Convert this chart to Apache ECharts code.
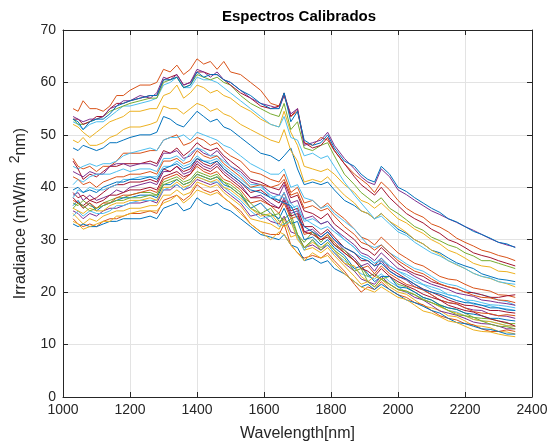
<!DOCTYPE html>
<html>
<head>
<meta charset="utf-8">
<title>Espectros Calibrados</title>
<script src="https://cdn.jsdelivr.net/npm/echarts@6/dist/echarts.min.js"></script>
<style>
  html, body { margin: 0; padding: 0; background: #fff; }
  #chart { width: 559px; height: 447px; }
</style>
</head>
<body>
<div id="chart"></div>
<script>
// Wavelength sample points (nm) shared by every spectrum
const wavelengths = [
  1030,1045,1060,1080,1100,1120,1140,1160,1180,1200,
  1230,1260,1280,1300,1320,1340,1360,1380,1400,1420,
  1440,1460,1480,1500,1530,1560,1590,1620,1645,1660,
  1680,1700,1720,1745,1770,1790,1810,1840,1870,1890,
  1910,1930,1950,1975,
  2000,2025,2050,2075,2100,2125,2150,2175,2200,2225,2250,2275,2300,2325,2350
];

// Calibrated irradiance spectra (mW/m^2 nm)
const z1 = [35,34,33,34,33.5,34.5,35,35.5,35.5,36, 36,36.5,36.5,38.5,38.5,39.5,38.5,39,41,40.5, 40,40.5,39,38,36.5,34,33.5,33,32,34, 30.5,31,28,28.5,27.5,28.5,27,25,23,21.5, 22,21,22.5,21,
  20,19.6,18.5,17.4,17,16.5,15.5,15.3,14.5,13.6,13.5,13.2,12.5,12.4,12];
const z2 = [34,33,32.5,33,32.5,33.5,34,34,34.5,35, 35,35.5,35,37.5,38,38.5,37.5,38.5,40.5,39.5, 39,39.5,38,37,35.5,33,31.5,31,31,33, 29,27.5,26.5,27,26.5,27.5,26,24,21.5,20, 21,20.5,22,20.5,
  19.5,19,18,17.6,16.5,15.5,15,14.7,14,13.8,13,12.5,12.5,12.8,12.5];
const z3 = [33,32.5,33,32.5,32.5,33,33.5,33.5,34,34, 34,34.5,34,36,36.5,37,35.5,36,38,37, 36.5,37,36,35.5,34,32.5,31,30.5,30,31, 29,28.5,26,26.5,25.5,26,24.5,23.5,22,21, 21.5,20.5,21.5,20.5,
  19.5,18.5,18,17.3,16.5,16,15,14.2,14,13.5,13,12.9,12.5,12,12];
const z4 = [33.5,33,32,32.5,33,33.5,33.5,34.5,34.5,35, 35.5,35.5,35.5,37,37.5,38.5,37,38,39.5,39, 38.5,39,38,37,35,33,31.5,30,31.5,31, 29,27.5,26,27.5,26.5,27,25.5,23.5,22,21, 20.5,20,21,20,
  19,18.6,17.5,16.4,16,15.3,14.5,14.2,13.5,12.8,12.5,12.4,12,11.7,11.5];
const z5 = [35.5,35,34,35,34.5,35.5,36,36,36.5,37, 37,37.5,37,39.5,39.5,40.5,39.5,40,41.5,41, 40.5,41,39.5,38.5,37,34.5,35,33.5,33,34.5, 31.5,31,28.5,29,28,29,27.5,25.5,24,22.5, 22,21.5,23,21.5,
  20.5,20,19,18.5,17.5,16.4,16,15.6,15,14.3,14,13.9,13.5,13,13];
const z6 = [34.5,35.5,34.5,35.5,35,35,35.5,36.5,36.5,37, 37.5,37.5,37.5,39.5,40,40.5,39.5,40.5,42,41.5, 41,41,40,39,37.5,35.5,34,34.5,32.5,33, 33.5,30.5,28,30,28.5,29,27.5,26,24.5,23.5, 23,22.5,23.5,22,
  21,20,19.5,18.7,18,17.3,16.5,16.2,15.5,14.8,14.5,14.4,14,13.6,13.5];

const l1 = [38.5,39,37.5,38.5,37.5,38,38.5,39.5,39,40, 40.5,41,40.5,43,43,44,42.5,43,45,44, 43.5,44.5,43,42,40.5,38,38.5,37,36,38, 35,35.5,31.5,32,30.5,31.5,30,28,26.5,25, 25.5,24,26,24,
  23,22.3,21,20.5,19.5,18.5,18,17.7,17,16.6,16.5,15.8,15.5,15.4,15];
const l2 = [39,38,38.5,37.5,38,39,40,40.5,40.5,41, 41,41.5,41,43.5,43,44,43,43.5,45.5,44.5, 44,45,43.5,42.5,41,39,39.5,38,37,39, 35.5,36,32.5,32.5,31,32,30.5,28.5,27.5,26, 26,25,26.5,24.5,
  23.5,22.5,21.5,20.6,20,19.3,18.5,18,17.5,17.4,17,16.5,16.5,16.2,16];
const l3 = [37,36.5,37.5,36.5,36,37,37.5,38,38,38.5, 39,39,38.5,41,41.5,42,41,41.5,43,42.5, 42,42.5,41,40.5,39,36,35,36,33.5,34, 35,31,29.5,31.5,29.5,31,29,28,26,25, 23,23.5,22.5,23,
  21.5,21,20,19,18.5,17.6,17,16.7,16,15.2,15,14.9,14.5,14,14];
const l4 = [36.5,37.5,36,37,35.5,36.5,37,37.5,38,38, 38.5,38.5,38,40.5,40.5,41.5,40.5,41,42.5,42, 41.5,42,40.5,40,38.5,36,37,35,34,36, 33,33.5,30,30.5,29,30,28.5,27,24.5,25, 23.5,22,23,23,
  21,20.8,20,19,18.5,17.5,17,16.7,16,15.8,15.5,15,15,14.7,14.5];
const l5 = [38,39.5,39,40,39.5,39.5,40,40.5,41.5,41.5, 42,42,42,44,44,45,44,44.5,46,45, 45,45.5,44,43,41.5,40,40,38.5,37.5,39, 36,36.5,33.5,34,33,33.5,32,30,28.5,27, 26.5,25.5,26,25,
  24,23.4,22.5,21.5,21,20.5,19.5,19.2,18.5,17.7,17.5,17.4,17,16.8,16.5];
const l6 = [37.5,37,36,37,36,37,37,38,38.5,38.5, 39,39.5,39,41.5,42,42.5,41.5,42.5,44,43, 42.5,43,41.5,41,39.5,37,37.5,36.5,35,37, 34,34.5,31,31.5,30,31,29.5,27.5,26,24.5, 25,23.5,25,23.5,
  22.5,21.5,21,20.4,19.5,18.5,18,17.8,17,16.3,16,15.9,15.5,15.7,15.5];
const l7 = [36,35.5,35,36,35.5,35.5,36.5,37,37,37.5, 37.5,38,37.5,40,40,41,40,40.5,42,41.5, 41,41.5,40,39.5,38,36,34.5,35,33,32.5, 33.5,30,28.5,29.5,28.5,29.5,28,25.5,25,23, 22,23,22.5,21.5,
  20.5,20.2,19.5,18.6,18,17.2,16.5,16,15.5,14.8,14.5,14.4,14,13.6,13.5];
const l8 = [38,37,36.5,37.5,37,37.5,38.5,38.5,39,39.5, 39.5,40,39.5,42,42.5,43,42,42.5,44.5,43.5, 43,44,42.5,41.5,40,38,38,36.5,36,37.5, 34.5,35,31.5,31,30,30.5,29,27.5,26,24.5, 24,23,24.5,23,
  22,21.2,20.5,19.6,19,18.5,17.5,17,16.5,16.2,15.5,14.9,14.5,14.2,13.5];
const l9 = [36,37,36.5,35.5,36,36.5,37,37.5,37.5,38, 38,38.5,38.5,40.5,41,41.5,40.5,41,42.5,42, 41.5,42,41,40,38.5,37,35,34.5,35,33, 34,31,28.5,30,28,29.5,28,26.5,24,24.5, 22,21,22.5,21.5,
  20.5,20.2,19.5,18.5,18,17.4,16.5,15.7,15.5,15.2,14.5,13.9,13.5,13.4,13];
const l10 = [39.5,40,39,39.5,39,40,40.5,41,41,41.5, 41.5,42,41.5,43.5,44,44.5,43.5,44,45.5,45, 44.5,45,43.5,42.5,41,39.5,39,38,37.5,37, 36.5,34,32.5,31.5,30.5,31.5,30,28.5,27.5,26.5, 26,25,25.5,24,
  23,22.5,21.5,20.5,20,19.6,19,18.4,18,17.9,17.5,17,17,16.6,16.5];

const m1 = [45.5,44,43.5,44,43,44,44,45,46.5,46.5, 46.5,47,47,49,49.5,50,48,48.5,49.5,49, 48,48.5,47,46,45,43,42.5,41.5,41,42.5, 39,40,37,37.5,36,37,35.5,34,32,30.5, 30,29,30.5,29,
  27.5,26.5,25.5,25,24,23,22.5,22.3,21.5,20.8,20.5,20.2,19.5,19.4,19];
const m2 = [44,43.5,44,44.5,44,44.5,44.5,45,46,46.5, 47,47.5,47,49,49.5,49.5,50,49,50.5,50, 49.5,49,48,47.5,46,44.5,43.5,42.5,42.5,43.5, 40,40.5,38,37.5,36,36.5,35,33.5,32,30.5, 29,28.5,29,27.5,
  26.5,25.4,24.5,24,23,22,21.5,21.2,20.5,19.8,19.5,19.1,18.5,18.2,17.5];
const m3 = [45,43.5,41.5,42.5,42,43,44,44,44.5,44.5, 44.5,45,44.5,47,46.5,47.5,46,47,48.5,47.5, 47,47.5,46,45,43.5,41.5,41,40,39.5,41, 38,38.5,35.5,35,34,35,33,31.5,30,28.5, 28,27,28.5,27,
  25.5,24.3,23.5,23,22,21.5,21,20.6,20,19.9,19.5,19,19,19.3,19.5];
const m4 = [43,42.5,42,43,42.5,42.5,44,44.5,44.5,44, 44.5,44.5,44,46.5,46.5,47,45.5,46,47.5,46.5, 46,47,45.5,44,43,41,40.5,39,38.5,40.5, 37,37.5,34,34.5,33,33.5,32,30.5,29,27.5, 27,26,27.5,26,
  24.5,24,23,22.2,21.5,21,20.5,19.8,19.5,19.2,18.5,18.3,18,17.8,17.5];
const m5 = [40.5,41.5,41,42,42.5,42.5,42.5,43,43.5,43, 43.5,43.5,43,45.5,45.5,46,45,46.5,47.5,47, 46,46,45,44,42.5,40.5,40.5,38,38.5,38, 37,35.5,34,33,32,32.5,31.5,30,28.5,27, 26.5,25.5,26.5,25,
  24,23,22,21.4,20.5,20,19.5,19.2,18.5,18.4,18,17.6,17.5,17.3,17];
const m6 = [42,41.5,40.5,41,40,41,41.5,42,42,42.5, 42.5,43,42.5,45,45,45.5,44.5,45,47,46, 45.5,46,44.5,43.5,42,40,40.5,40,40.5,41.5, 38.5,39,36,36.5,35.5,36,34.5,32.5,31,29.5, 29,28,29,27.5,
  26,25,24,23.5,22.5,21.6,21,20.7,20,19.4,19,18.9,18.5,18.4,18];

const b1 = [47.5,47,48,47.5,47,47.5,48.5,48.5,49,49.5, 50,50,50.5,53.5,53,52,51.5,53,54.5,53.5, 52.5,53,51.5,51,49.5,48,46.5,46,45,46, 47.5,43.5,40.5,41,40.5,41,39.5,37.5,36.5,35.5, 35,34,35,33.5,
  32,31.2,30,29.2,28,27.5,26.5,25.6,25,24.5,23.5,23,22.5,22.3,22];
const y1 = [52,51.5,50.5,49.5,50.5,51.5,52.5,53,53.5,54.5, 54.5,55,55,57.5,58,59.5,57,58,59.5,59, 58,58.5,57.5,57,55.5,54.5,53,52,51.5,54.5, 50.5,48,44,43.5,43,43.5,42.5,40.5,39,37.5, 37,36,37,35.5,
  34,33.2,32,31.2,30,29.2,28,27.4,26.5,25.5,25,24.8,24,23.9,23.5];
const y2 = [49,48.5,49.5,48,48,48.5,49.5,50,51,51.5, 51.5,52,52.5,55.5,55,55,54,55,56,55.5, 54.5,55,54,53.5,52,51,50,49,48.5,51, 47,45,41,41.5,41,42,40.5,38.5,37,35.5, 35,34,35,33.5,
  32.5,31.4,30,29.2,28,27.2,26,25.2,24.5,23.6,23,22.6,22,21.6,21];

const t1 = [55,54.5,56.5,55,55,54.5,55.5,57.5,57.5,58.5, 59.5,59.5,60,62.5,62,63.3,61.5,62.5,64.5,63.5, 64,62.5,64,62,61.5,60,58.5,56,55.5,57.5, 53.5,54.5,48.5,48,49.5,49,47,44.5,42.5,41.5, 40.5,39,41,39.5,
  37.5,36,35,34.3,33,32.4,31.5,30.3,29.5,28.8,28,27.6,27,26.6,26];
const t2 = [53,52.5,51,52.5,53,53,54,55.5,56,56.5, 57,57.5,57.5,60.5,60.5,61,59,59.5,62,61, 61.5,61.5,60.5,60,58.5,57.5,56,55,55,58, 52.5,54.5,49,48,48.5,50,47.5,45,44,42.5, 41.5,41,44,42.5,
  40,39.2,38,37,36,35.2,34,33.4,32.5,31.6,31,30.3,29.5,29.2,28.5];
const t3 = [53.5,53,52.5,53,53,53.5,55,55.5,56.5,56.5, 57.5,57,58,61,60.5,61.5,59.5,60,62.5,62, 61,62,60.5,60,58.5,57,56,55.5,55,57.5, 54,55,48,48.5,49,50.5,48,45.5,43.5,42, 41,40.5,43.5,42,
  39.5,38.6,37.5,36.5,35.5,34.8,34,33.3,32.5,31.8,31,30.2,29.5,29,28.6];
const t4 = [53,52,52,52.5,53,53.5,54.5,55,55.5,56, 56.5,57,57,60,60.5,61,59,59.5,61.5,61, 60.5,61,60,59.5,57.5,56,55,54,53.5,56, 51,52.5,47.5,47,48,48.5,46,42.5,40.5,39, 38,37,38,36,
  35,33.8,32.5,31.8,30.5,29.8,29,28.5,27.5,26.9,26,26,25.5,25,24.5];
const t5 = [53,53,52,52.5,53.5,53.5,55,56,56,56.5, 57,57.5,57.5,60.5,61,61.5,59.5,60,62,62, 61.5,61.5,60.5,59.5,58,57,55.5,55,55.5,58, 53.5,55,48.5,47.5,48,49.5,47,44.5,42,40.5, 39.5,38.5,40,38,
  36.5,35,34,33.2,32,31.2,30,29.4,28.5,27.5,27,26.6,26,25.5,25];
const t6 = [52.5,52,51,52,52.5,52.5,53.5,54.5,55.5,55.5, 56,56.5,57,59.5,60,61,59,59,61,60.5, 60.5,60,59,58,56.5,55,53.5,52,51.5,53.5, 49.5,49,46,46.5,45.5,46,44,41,38.5,37, 35.5,34,34.5,33,
  31.5,30.8,29.5,28.5,27.5,26.9,26,25.3,24.5,23.6,23,22.7,22,21.7,21.5];

// Drawing order (first drawn sits underneath) and the colour of each trace
const spectra = [z1, z2, z3, z4, z5, z6, l1, l2, l3, l4, l5, l6, l7, l8, l9, l10,
                 m1, m2, m3, m4, m5, m6, b1, y1, y2, t6, t1, t4, t5, t3, t2];
const lineColors = [
  '#EDB120', '#D95319', '#0072BD', '#EDB120', '#7E2F8E', '#4DBEEE',
  '#7E2F8E', '#A2142F', '#77AC30', '#0072BD', '#4DBEEE', '#D95319', '#EDB120', '#A2142F', '#77AC30', '#0072BD',
  '#D95319', '#4DBEEE', '#A2142F', '#7E2F8E', '#4DBEEE', '#D95319',
  '#0072BD', '#EDB120', '#EDB120',
  '#4DBEEE', '#D95319', '#77AC30', '#A2142F', '#7E2F8E', '#0072BD'
];

const xTicks = { min: 1000, max: 2400, step: 200 };
const yTicks = { min: 0, max: 70, step: 10 };

const axisInk = '#262626';
const fontFamily = '"Liberation Sans", Arial, Helvetica, sans-serif';

const chart = echarts.init(document.getElementById('chart'), null, { renderer: 'canvas' });

const series = spectra.map((vals, k) => ({
  type: 'line',
  xAxisIndex: 0,
  yAxisIndex: 0,
  data: vals.map((v, i) => [wavelengths[i], v]),
  showSymbol: false,
  symbol: 'none',
  silent: true,
  animation: false,
  lineStyle: { width: 1, color: lineColors[k] },
  z: 2 + k
}));

const baseAxis = (t) => ({
  type: 'value',
  min: t.min,
  max: t.max,
  interval: t.step,
  axisLine: { show: true, onZero: false, lineStyle: { color: axisInk, width: 1 } },
  axisTick: { show: true, inside: true, length: 5, lineStyle: { color: axisInk } },
  splitLine: { show: false },
  axisLabel: { show: false }
});

const plainNumber = (v) => String(v);

chart.setOption({
  backgroundColor: '#ffffff',
  animation: false,
  title: {
    text: 'Espectros Calibrados',
    left: 294,
    textAlign: 'center',
    top: 4,
    textStyle: { fontFamily, fontSize: 15, fontWeight: 'bold', color: '#000' }
  },
  grid: { left: 57, right: 27, top: 30, bottom: 47, containLabel: false },
  xAxis: [
    Object.assign(baseAxis(xTicks), {
      position: 'bottom',
      splitLine: { show: true, lineStyle: { color: '#e3e3e3', width: 1 } },
      axisLabel: { show: true, color: axisInk, fontFamily, fontSize: 14, margin: 6, formatter: plainNumber },
      name: 'Wavelength[nm]',
      nameLocation: 'middle',
      nameGap: 29,
      nameTextStyle: { fontFamily, fontSize: 16, color: axisInk }
    }),
    Object.assign(baseAxis(xTicks), { position: 'top' })
  ],
  yAxis: [
    Object.assign(baseAxis(yTicks), {
      position: 'left',
      splitLine: { show: true, lineStyle: { color: '#e3e3e3', width: 1 } },
      axisLabel: { show: true, color: axisInk, fontFamily, fontSize: 14, margin: 7, formatter: plainNumber },
      name: 'Irradiance (mW/m  {sup|2}nm)',
      nameLocation: 'middle',
      nameGap: 29,
      nameRotate: 90,
      nameTextStyle: {
        fontFamily, fontSize: 16, color: axisInk,
        rich: { sup: { fontFamily, fontSize: 14, color: axisInk, padding: [0, 0, 12, 0] } }
      }
    }),
    Object.assign(baseAxis(yTicks), { position: 'right' })
  ],
  series
});
</script>
</body>
</html>
